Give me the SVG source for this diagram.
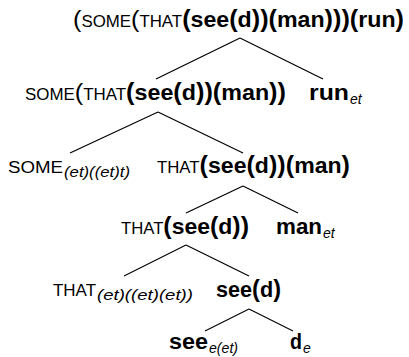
<svg xmlns="http://www.w3.org/2000/svg" width="409" height="357" viewBox="0 0 409 357">
<style>
text{font-family:"Liberation Sans","DejaVu Sans",sans-serif;fill:#000;font-size:22px}
.b{font-weight:bold}
.p{font-size:24px}
.sc{font-size:16px}
.cap{font-size:16px}
.sub{font-size:14px;font-style:italic}
.edge{stroke:#000;stroke-width:1.2;fill:none}
</style>
<rect width="409" height="357" fill="#fff"/>
<g id="edges">
<line class="edge" x1="240" y1="38" x2="156" y2="79"/>
<line class="edge" x1="240" y1="38" x2="323" y2="79"/>
<line class="edge" x1="158" y1="112" x2="70" y2="153"/>
<line class="edge" x1="158" y1="112" x2="243" y2="153"/>
<line class="edge" x1="243" y1="186" x2="186" y2="213"/>
<line class="edge" x1="243" y1="186" x2="298" y2="213"/>
<line class="edge" x1="186" y1="245" x2="124" y2="276"/>
<line class="edge" x1="186" y1="245" x2="249" y2="276"/>
<line class="edge" x1="249" y1="309" x2="205" y2="331"/>
<line class="edge" x1="249" y1="309" x2="293" y2="331"/>
</g>
<g id="n1"><text x="73" y="27" textLength="331" lengthAdjust="spacingAndGlyphs"><tspan class="p">(</tspan><tspan class="sc">SOME</tspan><tspan class="p">(</tspan><tspan class="sc">THAT</tspan><tspan class="b"><tspan class="p">(</tspan>see<tspan class="p">(</tspan>d<tspan class="p">))(</tspan>man<tspan class="p">)))(</tspan>run<tspan class="p">)</tspan></tspan></text></g>
<g id="n2"><text x="25" y="100" textLength="261" lengthAdjust="spacingAndGlyphs"><tspan class="sc">SOME</tspan><tspan class="p">(</tspan><tspan class="sc">THAT</tspan><tspan class="b"><tspan class="p">(</tspan>see<tspan class="p">(</tspan>d<tspan class="p">))(</tspan>man<tspan class="p">))</tspan></tspan></text></g>
<g id="n3"><text x="309" y="100" class="b" textLength="40" lengthAdjust="spacingAndGlyphs">run</text><text x="350" y="104" class="sub">et</text></g>
<g id="n4"><text x="8" y="173" class="cap" textLength="55" lengthAdjust="spacingAndGlyphs">SOME</text><text x="64" y="177" class="sub" textLength="66" lengthAdjust="spacingAndGlyphs">(et)((et)t)</text></g>
<g id="n5"><text x="157" y="173" textLength="193" lengthAdjust="spacingAndGlyphs"><tspan class="sc">THAT</tspan><tspan class="b"><tspan class="p">(</tspan>see<tspan class="p">(</tspan>d<tspan class="p">))(</tspan>man<tspan class="p">)</tspan></tspan></text></g>
<g id="n6"><text x="121" y="234" textLength="128" lengthAdjust="spacingAndGlyphs"><tspan class="sc">THAT</tspan><tspan class="b"><tspan class="p">(</tspan>see<tspan class="p">(</tspan>d<tspan class="p">))</tspan></tspan></text></g>
<g id="n7"><text x="276" y="234" class="b" textLength="46" lengthAdjust="spacingAndGlyphs">man</text><text x="323" y="238" class="sub">et</text></g>
<g id="n8"><text x="53" y="296" class="cap" textLength="43" lengthAdjust="spacingAndGlyphs">THAT</text><text x="97" y="300" class="sub" textLength="96" lengthAdjust="spacingAndGlyphs">(et)((et)(et))</text></g>
<g id="n9"><text x="216" y="297" class="b" textLength="65" lengthAdjust="spacingAndGlyphs">see<tspan class="p">(</tspan>d<tspan class="p">)</tspan></text></g>
<g id="n10"><text x="169" y="349" class="b" textLength="39" lengthAdjust="spacingAndGlyphs">see</text><text x="209" y="353" class="sub" textLength="29" lengthAdjust="spacingAndGlyphs">e(et)</text></g>
<g id="n11"><text x="290" y="349" class="b" textLength="12" lengthAdjust="spacingAndGlyphs">d</text><text x="303" y="353" class="sub">e</text></g>
</svg>
